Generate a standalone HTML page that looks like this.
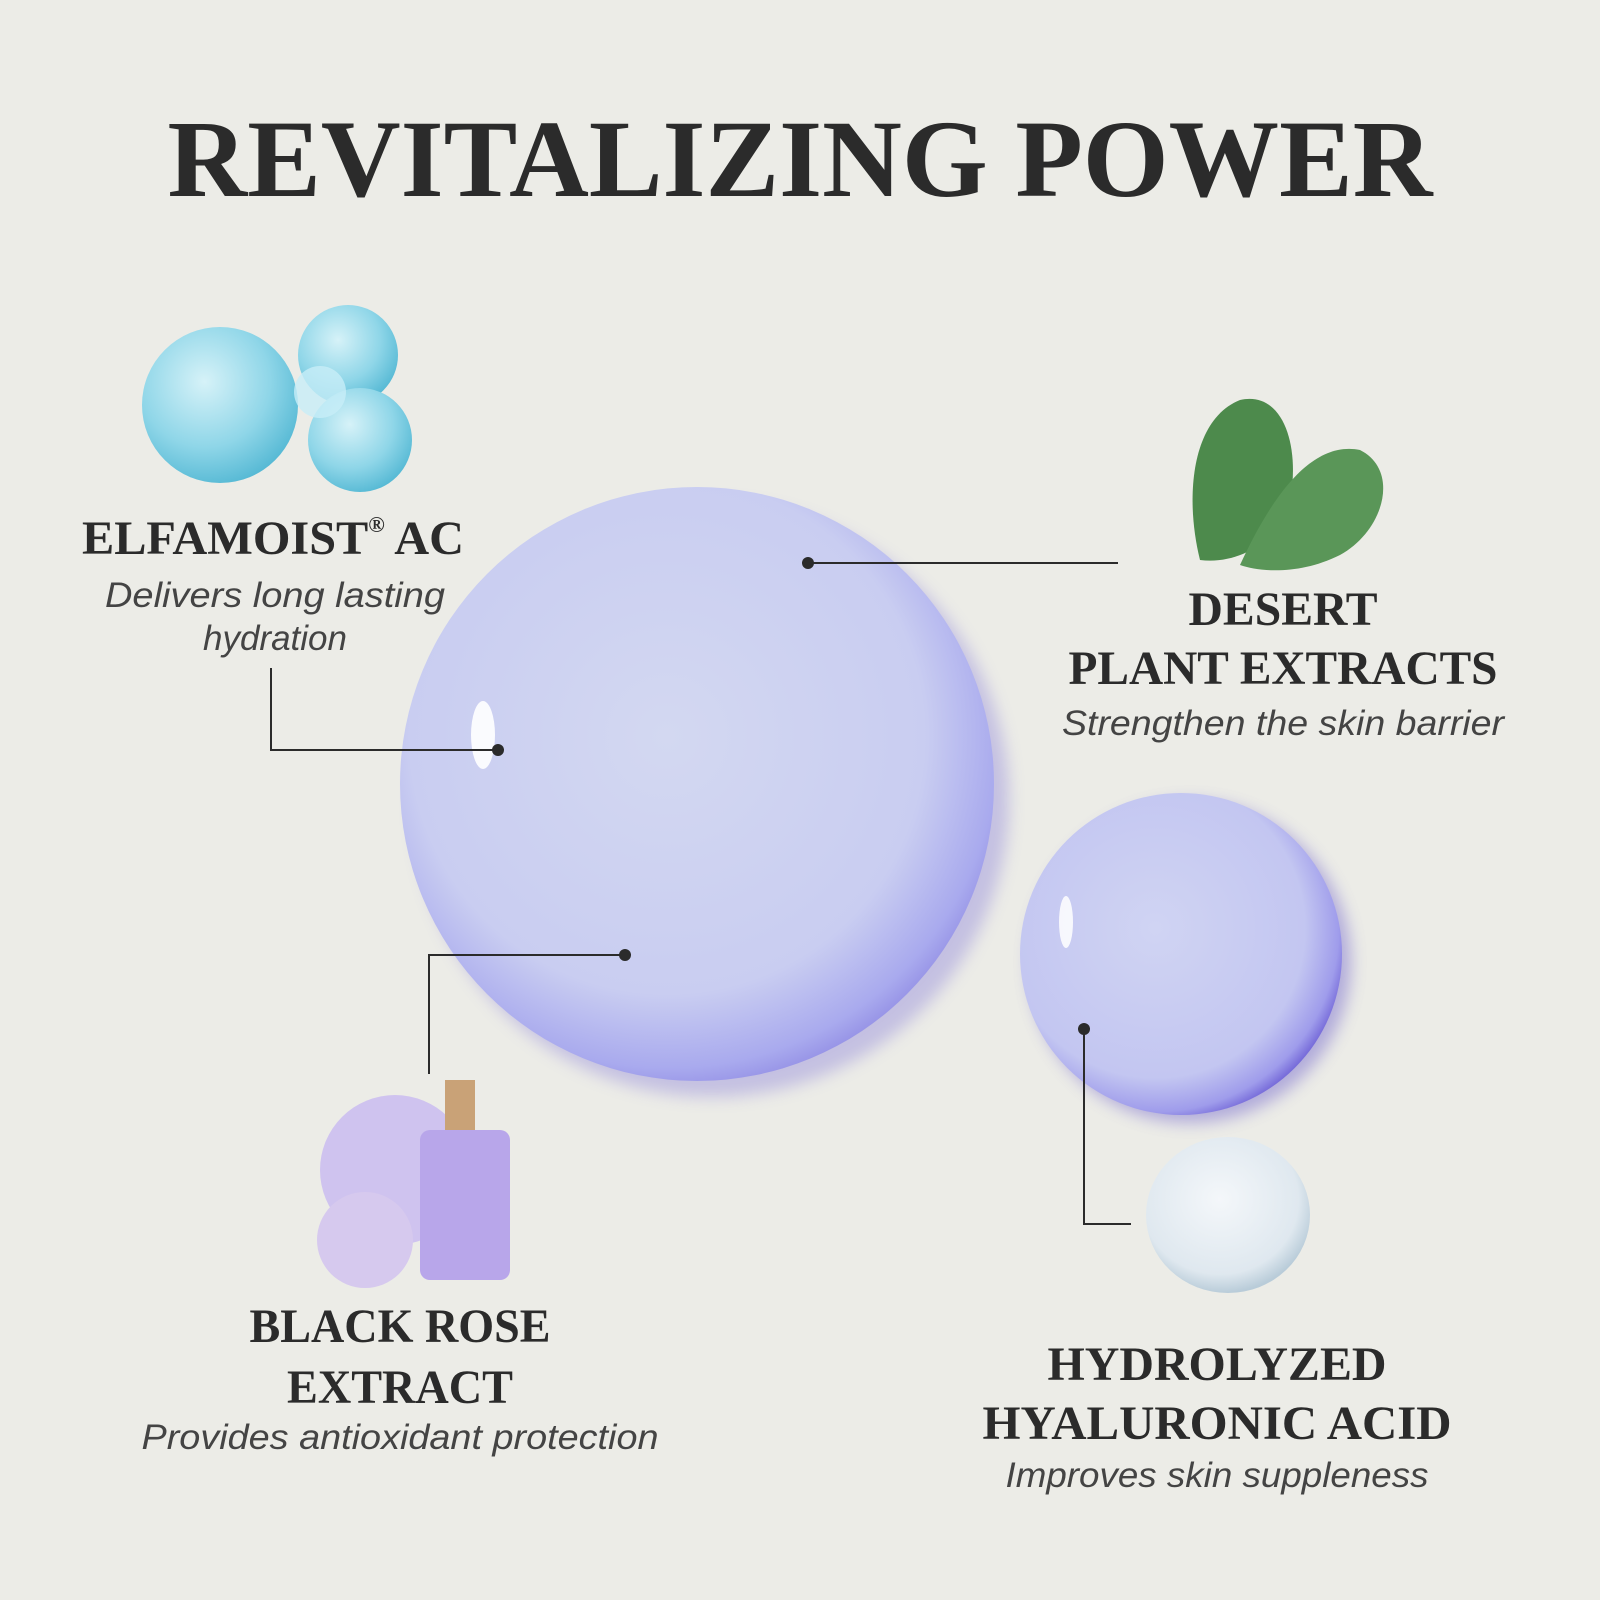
<!DOCTYPE html>
<html><head><meta charset="utf-8"><style>
html,body{margin:0;padding:0;background:#ecece7;}
svg{display:block}
.h{font-family:"Liberation Serif",serif;font-weight:bold;fill:#2b2b2b}
.s{font-family:"Liberation Sans",sans-serif;font-style:italic;fill:#444}
</style></head><body>
<svg width="1600" height="1600" viewBox="0 0 1600 1600" xmlns="http://www.w3.org/2000/svg">
<defs>
<radialGradient id="big" cx="0.45" cy="0.42" r="0.62">
<stop offset="0" stop-color="#d3d8f1"/><stop offset="0.7" stop-color="#c9cdf1"/><stop offset="0.9" stop-color="#a9aaee"/><stop offset="1" stop-color="#8c86e2"/>
</radialGradient>
<radialGradient id="sm" cx="0.42" cy="0.42" r="0.62">
<stop offset="0" stop-color="#d0d4f3"/><stop offset="0.75" stop-color="#c3c6f1"/><stop offset="0.92" stop-color="#9f9ceb"/><stop offset="1" stop-color="#6f62d6"/>
</radialGradient>
<radialGradient id="aq" cx="0.4" cy="0.35" r="0.7">
<stop offset="0" stop-color="#d6f2f8"/><stop offset="0.6" stop-color="#8fd6e8"/><stop offset="1" stop-color="#52b7d3"/>
</radialGradient>
<radialGradient id="gel" cx="0.45" cy="0.4" r="0.6">
<stop offset="0" stop-color="#f4f7fa"/><stop offset="0.8" stop-color="#dfe8ef"/><stop offset="1" stop-color="#b9ccd9"/>
</radialGradient>
<filter id="bl"><feGaussianBlur stdDeviation="8"/></filter>
</defs>
<rect width="1600" height="1600" fill="#ecece7"/>
<text class="h" x="800" y="196" text-anchor="middle" font-size="110" textLength="1265" lengthAdjust="spacingAndGlyphs">REVITALIZING POWER</text>

<ellipse cx="712" cy="800" rx="297" ry="297" fill="#7a70d8" opacity="0.35" filter="url(#bl)"/>
<circle cx="697" cy="784" r="297" fill="url(#big)"/>
<ellipse cx="483" cy="735" rx="12" ry="34" fill="#fff" opacity="0.9"/>
<ellipse cx="1190" cy="962" rx="161" ry="161" fill="#5a4cc8" opacity="0.4" filter="url(#bl)"/>
<circle cx="1181" cy="954" r="161" fill="url(#sm)"/>
<ellipse cx="1066" cy="922" rx="7" ry="26" fill="#fff" opacity="0.85"/>

<circle cx="220" cy="405" r="78" fill="url(#aq)"/>
<circle cx="348" cy="355" r="50" fill="url(#aq)"/>
<circle cx="360" cy="440" r="52" fill="url(#aq)"/>
<circle cx="320" cy="392" r="26" fill="#c8eef7" opacity="0.8"/>
<path d="M1200 560 C1185 500 1190 420 1240 400 C1285 390 1300 450 1290 500 C1280 540 1240 565 1200 560Z" fill="#4d8a4c"/>
<path d="M1240 565 C1270 500 1310 440 1360 450 C1400 470 1385 530 1340 555 C1300 575 1260 572 1240 565Z" fill="#5a9658"/>
<circle cx="395" cy="1170" r="75" fill="#cfc3ef"/>
<rect x="420" y="1130" width="90" height="150" rx="10" fill="#b8a6ea"/>
<rect x="445" y="1080" width="30" height="50" fill="#c9a277"/>
<circle cx="365" cy="1240" r="48" fill="#d6c9ee"/>
<ellipse cx="1228" cy="1215" rx="82" ry="78" fill="url(#gel)"/>

<g stroke="#2b2b2b" stroke-width="2" fill="none">
<polyline points="271,668 271,750 498,750"/>
<line x1="808" y1="563" x2="1118" y2="563"/>
<polyline points="625,955 429,955 429,1074"/>
<polyline points="1084,1029 1084,1224 1131,1224"/>
</g>
<g fill="#2b2b2b">
<circle cx="498" cy="750" r="6"/><circle cx="808" cy="563" r="6"/><circle cx="625" cy="955" r="6"/><circle cx="1084" cy="1029" r="6"/>
</g>

<text class="h" x="273" y="554" text-anchor="middle" font-size="48" textLength="382" lengthAdjust="spacingAndGlyphs">ELFAMOIST<tspan font-size="22" dy="-22">®</tspan><tspan dy="22"> AC</tspan></text>
<text class="s" x="275" y="607" text-anchor="middle" font-size="35" textLength="340" lengthAdjust="spacingAndGlyphs">Delivers long lasting</text>
<text class="s" x="275" y="650" text-anchor="middle" font-size="35">hydration</text>

<text class="h" x="1283" y="625" text-anchor="middle" font-size="48" textLength="189" lengthAdjust="spacingAndGlyphs">DESERT</text>
<text class="h" x="1283" y="684" text-anchor="middle" font-size="48" textLength="429" lengthAdjust="spacingAndGlyphs">PLANT EXTRACTS</text>
<text class="s" x="1283" y="735" text-anchor="middle" font-size="35" textLength="442" lengthAdjust="spacingAndGlyphs">Strengthen the skin barrier</text>

<text class="h" x="400" y="1342" text-anchor="middle" font-size="48" textLength="301" lengthAdjust="spacingAndGlyphs">BLACK ROSE</text>
<text class="h" x="400" y="1403" text-anchor="middle" font-size="48" textLength="226" lengthAdjust="spacingAndGlyphs">EXTRACT</text>
<text class="s" x="400" y="1449" text-anchor="middle" font-size="35" textLength="517" lengthAdjust="spacingAndGlyphs">Provides antioxidant protection</text>

<text class="h" x="1217" y="1380" text-anchor="middle" font-size="48" textLength="339" lengthAdjust="spacingAndGlyphs">HYDROLYZED</text>
<text class="h" x="1217" y="1439" text-anchor="middle" font-size="48" textLength="469" lengthAdjust="spacingAndGlyphs">HYALURONIC ACID</text>
<text class="s" x="1217" y="1487" text-anchor="middle" font-size="35" textLength="423" lengthAdjust="spacingAndGlyphs">Improves skin suppleness</text>
</svg>
</body></html>
